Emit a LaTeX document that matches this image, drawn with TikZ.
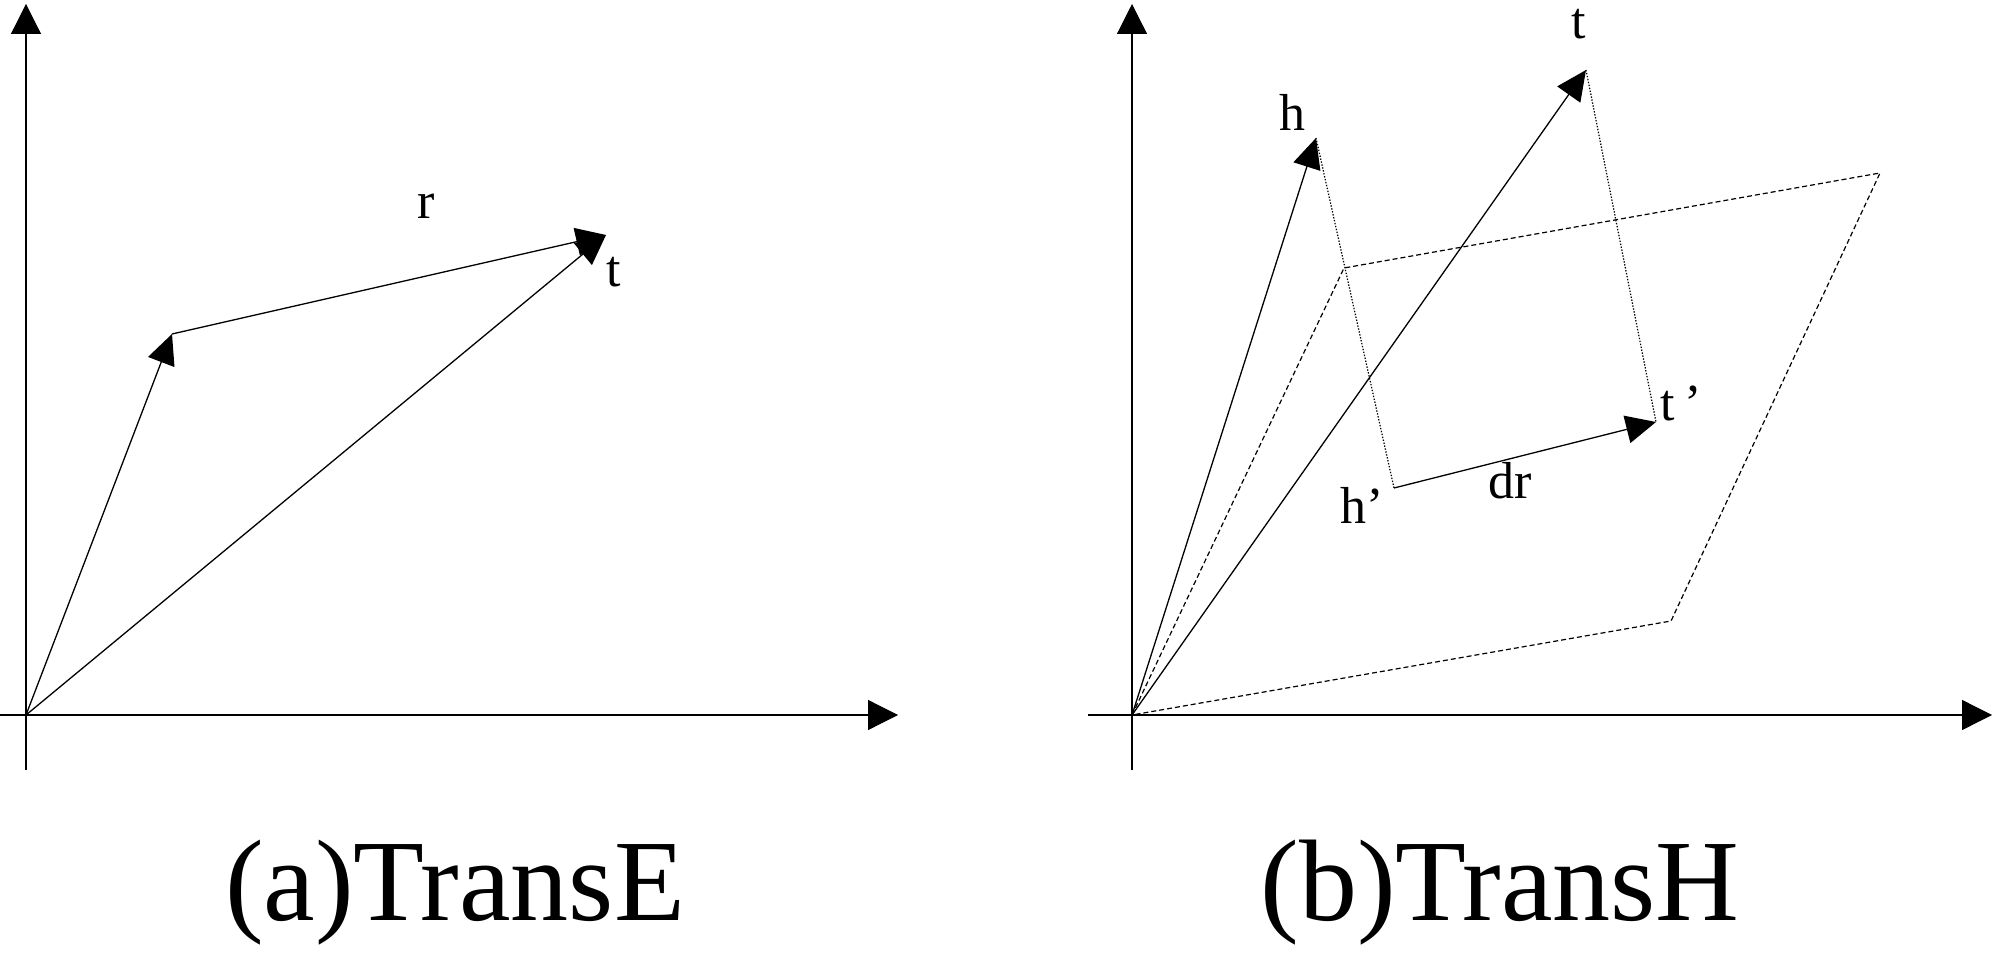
\documentclass[tikz,border=0pt]{standalone}
\usepackage{fontspec}
\setmainfont{Liberation Serif}
\usetikzlibrary{arrows.meta}
\begin{document}
\begin{tikzpicture}[x=0.5pt,y=-0.5pt,
  vec/.style={line width=0.65pt,-{Triangle[length=15pt,width=14pt]}},
  axis/.style={line width=0.6pt,-{Triangle[length=15pt,width=15pt]}},
  proj/.style={line width=0.6pt,dash pattern=on 0.7pt off 0.8pt},
  plane/.style={line width=0.6pt,dash pattern=on 2.5pt off 1.5pt},
  lbl/.style={font=\fontsize{26pt}{30pt}\selectfont,inner sep=0pt},
  captxt/.style={font=\fontsize{58pt}{64pt}\selectfont,inner sep=0pt}]
\useasboundingbox (0,0) rectangle (2000,956);
% ---------- (a) TransE ----------
\coordinate (O1) at (26,715);
\coordinate (Y1b) at (26,770);
\coordinate (Y1t) at (26,4);
\coordinate (X1l) at (0,715);
\coordinate (X1r) at (898,715);
\coordinate (H1) at (172,334);
\coordinate (T1) at (606,235);
\draw[axis] (Y1b) -- (Y1t);
\draw[axis] (X1l) -- (X1r);
\draw[vec] (O1) -- (H1);
\draw[vec] (O1) -- (T1);
\draw[vec] (H1) -- (T1);
\node[lbl] (rlab) at (426,206) {r};
\node[lbl] (tlab1) at (614,272) {t};
\node[captxt] (capa) at (455,893) {(a)TransE};
% ---------- (b) TransH ----------
\coordinate (O2) at (1132,715);
\coordinate (Y2b) at (1132,770);
\coordinate (Y2t) at (1132,4);
\coordinate (X2l) at (1088,715);
\coordinate (X2r) at (1992,715);
\coordinate (H2) at (1316,138);
\coordinate (T2) at (1586,70);
\coordinate (Hp) at (1394,488);
\coordinate (Tp) at (1656,422);
\coordinate (P1) at (1344,268);
\coordinate (P2) at (1880,173);
\coordinate (P3) at (1671,621);
\draw[axis] (Y2b) -- (Y2t);
\draw[axis] (X2l) -- (X2r);
\draw[plane] (O2) -- (P1) -- (P2) -- (P3) -- cycle;
\draw[proj] (H2) -- (Hp);
\draw[proj] (T2) -- (Tp);
\draw[vec] (O2) -- (H2);
\draw[vec] (O2) -- (T2);
\draw[vec] (Hp) -- (Tp);
\node[lbl] (hlab) at (1292,112) {h};
\node[lbl] (tlab2) at (1579,24) {t};
\node[lbl] (hplab) at (1362,505) {h’};
\node[lbl] (tplab) at (1681,403) {t\hspace{5pt}’};
\node[lbl] (drlab) at (1510,481) {dr};
\node[captxt] (capb) at (1500,893) {(b)TransH};
\end{tikzpicture}
\end{document}
